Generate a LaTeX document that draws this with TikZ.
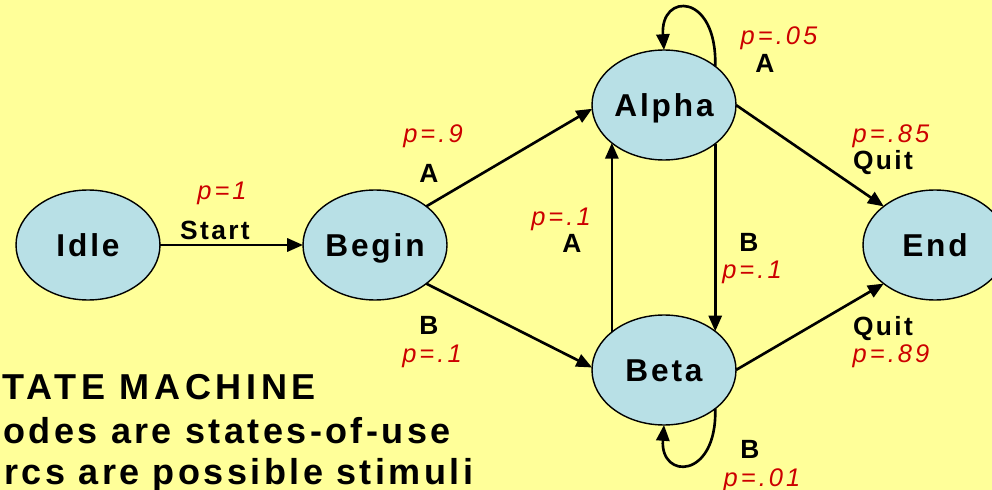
\documentclass[tikz,border=0pt]{standalone}
\usepackage{fontspec}
\setmainfont{Liberation Sans}
\newfontfamily\statefont[LetterSpace=9]{Liberation Sans}
\newfontfamily\probfont[LetterSpace=12]{Liberation Sans}
\newfontfamily\notefont[LetterSpace=9.5]{Liberation Sans}
\newfontfamily\titlefont[LetterSpace=13]{Liberation Sans}
\usetikzlibrary{shapes.geometric,arrows.meta}
\definecolor{paper}{HTML}{FFFF99}
\definecolor{statefill}{HTML}{B8E0E6}
\definecolor{probred}{HTML}{CC0000}

\begin{document}
\begin{tikzpicture}[x=0.02cm,y=-0.02cm,
  state/.style={ellipse,draw=black,line width=0.8pt,fill=statefill,
    minimum width=2.88cm,minimum height=2.2cm,inner sep=0pt,outer sep=0pt,
    font=\statefont\bfseries\fontsize{18}{18}\selectfont,
    text height=12.9pt,text depth=0pt},
  trans/.style={line width=1.5pt,-{Triangle[length=9pt,width=7.5pt]}},
  stim/.style={anchor=base,font=\statefont\bfseries\fontsize{15}{15}\selectfont},
  prob/.style={anchor=base,text=probred,font=\probfont\itshape\fontsize{14.5}{14.5}\selectfont},
  note/.style={anchor=base west,inner sep=0pt,font=\notefont\bfseries\fontsize{20.5}{20.5}\selectfont}]

% page
\fill[paper] (0,0) rectangle (992,490);
\useasboundingbox (0,0) rectangle (992,490);

% states
\node[state] (idle)  at (88,245)  {Idle};
\node[state] (begin) at (375,245) {Begin};
\node[state] (alpha) at (664,105) {Alpha};
\node[state] (beta)  at (664,370) {Beta};
\node[state] (end)   at (935,245) {End};

% transitions
\draw[trans] (idle) -- (begin);
\draw[trans] (begin.37) -- (alpha.183);
\draw[trans] (begin.-37) -- (beta.178);
\draw[trans] (beta.144) -- (alpha.216);
\draw[trans] (alpha.-37) -- (beta.37);
\draw[trans] (alpha.east) -- (end.143);
\draw[trans] (beta.east) -- (end.217);
\draw[trans] (alpha.37) .. controls +(2,-74) and +(-4,-58) .. (alpha.north);
\draw[trans] (beta.-37) .. controls +(2,71) and +(-4,55) .. (beta.south);

% stimuli and probabilities
\node[prob] (pstart) at (222,199) {p=1};
\node[stim] (sstart) at (215,239) {Start};
\node[prob] (pba) at (433,142) {p=.9};
\node[stim] (sba) at (429,182) {A};
\node[stim] (sbb) at (429,334) {B};
\node[prob] (pbb) at (432,362) {p=.1};
\node[prob] (pup) at (561,225) {p=.1};
\node[stim] (sup) at (572,252) {A};
\node[stim] (sdown) at (749,251) {B};
\node[prob] (pdown) at (752,278) {p=.1};
\node[prob] (paa) at (779,45) {p=.05};
\node[stim] (saa) at (765,72) {A};
\node[prob] (pae) at (891,142) {p=.85};
\node[stim] (sae) at (883,169) {Quit};
\node[stim] (sbe) at (883,335) {Quit};
\node[prob] (pbe) at (891,362) {p=.89};
\node[stim] (sbbl) at (750,458) {B};
\node[prob] (pbbl) at (762,486) {p=.01};

% notes
\node[note,font=\titlefont\bfseries\fontsize{20.5}{20.5}\selectfont] (title) at (2,399) {TATE MACHINE};
\node[note] (nodes) at (3,443) {odes are states-of-use};
\node[note] (arcs)  at (4,484) {rcs are possible stimuli};
\end{tikzpicture}
\end{document}
